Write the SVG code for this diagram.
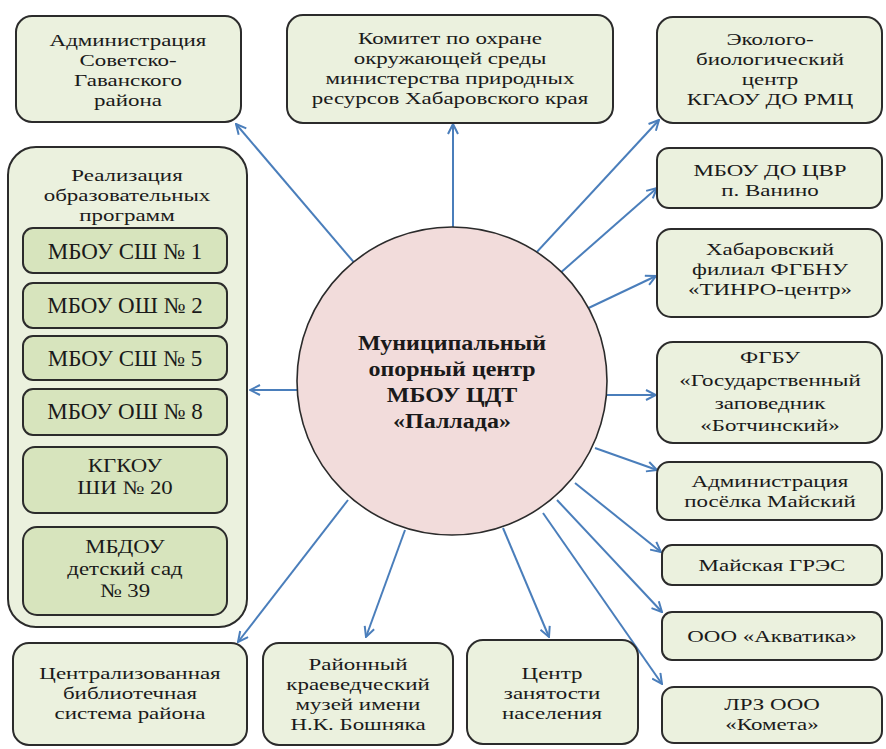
<svg xmlns="http://www.w3.org/2000/svg" width="886" height="749" viewBox="0 0 886 749" font-family="Liberation Serif, DejaVu Serif, serif">
<style>
.box{fill:#ebf1de;stroke:#2b2b2b;stroke-width:2}
.inner{fill:#d7e4bd;stroke:#2b2b2b;stroke-width:2}
.hub{fill:#f2dcdb;stroke:#2b2b2b;stroke-width:1.6}
text{font-family:"Liberation Serif","DejaVu Serif",serif;font-size:17px;fill:#1a1a1a;text-anchor:middle}
.big{font-size:23px}
.mid{font-size:19px}
.bold{font-weight:bold;font-size:20px}
.conn line{stroke:#4a7ebb;stroke-width:2;marker-end:url(#arr)}
</style>
<defs>
<marker id="arr" viewBox="0 0 12 12" refX="11" refY="6" markerWidth="12" markerHeight="12" markerUnits="userSpaceOnUse" orient="auto">
<path d="M1,1 L11,6 L1,11" fill="none" stroke="#4a7ebb" stroke-width="2"/>
</marker>
</defs>
<rect width="886" height="749" fill="#ffffff"/>

<g class="conn">
<line x1="363" y1="273" x2="236" y2="124"/>
<line x1="453" y1="228" x2="453" y2="124"/>
<line x1="522" y1="268" x2="659" y2="120"/>
<line x1="550" y1="282" x2="657" y2="188"/>
<line x1="578" y1="313" x2="656" y2="276"/>
<line x1="604" y1="395" x2="656" y2="395"/>
<line x1="595" y1="448" x2="657" y2="470"/>
<line x1="575" y1="483" x2="661" y2="552"/>
<line x1="557" y1="500" x2="662" y2="612"/>
<line x1="543" y1="513" x2="662" y2="684"/>
<line x1="503" y1="528" x2="549" y2="637"/>
<line x1="405" y1="530" x2="366" y2="637"/>
<line x1="348" y1="500" x2="238" y2="642"/>
<line x1="298" y1="390" x2="250" y2="390"/>
</g>

<g id="hub">
<ellipse class="hub" cx="452" cy="381" rx="155" ry="154"/>
<g transform="translate(452 0) scale(1.2 1)">
<text class="bold" x="0" y="350">Муниципальный</text>
<text class="bold" x="0" y="376">опорный центр</text>
<text class="bold" x="0" y="402">МБОУ ЦДТ</text>
<text class="bold" x="0" y="428">«Паллада»</text>
</g>
</g>

<g id="admin-sg">
<rect class="box" x="16" y="16" width="225" height="106" rx="16"/>
<g transform="translate(128 0) scale(1.35 1)">
<text x="0" y="46">Администрация</text>
<text x="0" y="66">Советско-</text>
<text x="0" y="86">Гаванского</text>
<text x="0" y="106">района</text>
</g>
</g>

<g id="komitet">
<rect class="box" x="287" y="15" width="326" height="108" rx="16"/>
<g transform="translate(450 0) scale(1.35 1)">
<text x="0" y="44">Комитет по охране</text>
<text x="0" y="64">окружающей среды</text>
<text x="0" y="84">министерства природных</text>
<text x="0" y="104">ресурсов Хабаровского края</text>
</g>
</g>

<g id="eko">
<rect class="box" x="657" y="17" width="225" height="106" rx="16"/>
<g transform="translate(770 0) scale(1.35 1)">
<text x="0" y="45">Эколого-</text>
<text x="0" y="65">биологический</text>
<text x="0" y="85">центр</text>
<text x="0" y="105">КГАОУ ДО РМЦ</text>
</g>
</g>

<g id="cvr">
<rect class="box" x="657" y="148" width="225" height="60" rx="12"/>
<g transform="translate(770 0) scale(1.35 1)">
<text x="0" y="176">МБОУ ДО ЦВР</text>
<text x="0" y="196">п. Ванино</text>
</g>
</g>

<g id="tinro">
<rect class="box" x="657" y="229" width="225" height="88" rx="14"/>
<g transform="translate(770 0) scale(1.35 1)">
<text x="0" y="255">Хабаровский</text>
<text x="0" y="275">филиал ФГБНУ</text>
<text x="0" y="295">«ТИНРО-центр»</text>
</g>
</g>

<g id="fgbu">
<rect class="box" x="657" y="342" width="225" height="101" rx="16"/>
<g transform="translate(770 0) scale(1.35 1)">
<text x="0" y="363">ФГБУ</text>
<text x="0" y="386">«Государственный</text>
<text x="0" y="409">заповедник</text>
<text x="0" y="431">«Ботчинский»</text>
</g>
</g>

<g id="mayskiy">
<rect class="box" x="657" y="462" width="225" height="58" rx="12"/>
<g transform="translate(770 0) scale(1.35 1)">
<text x="0" y="487">Администрация</text>
<text x="0" y="507">посёлка Майский</text>
</g>
</g>

<g id="gres">
<rect class="box" x="662" y="545" width="220" height="40" rx="10"/>
<g transform="translate(772 0) scale(1.35 1)">
<text x="0" y="571">Майская ГРЭС</text>
</g>
</g>

<g id="akvatika">
<rect class="box" x="662" y="612" width="220" height="48" rx="10"/>
<g transform="translate(772 0) scale(1.35 1)">
<text x="0" y="642">ООО «Акватика»</text>
</g>
</g>

<g id="kometa">
<rect class="box" x="662" y="687" width="220" height="56" rx="12"/>
<g transform="translate(772 0) scale(1.35 1)">
<text x="0" y="710">ЛРЗ ООО</text>
<text x="0" y="730">«Комета»</text>
</g>
</g>

<g id="zanyatost">
<rect class="box" x="467" y="640" width="171" height="104" rx="16"/>
<g transform="translate(552 0) scale(1.35 1)">
<text x="0" y="679">Центр</text>
<text x="0" y="699">занятости</text>
<text x="0" y="719">населения</text>
</g>
</g>

<g id="muzey">
<rect class="box" x="263" y="643" width="190" height="102" rx="16"/>
<g transform="translate(358 0) scale(1.35 1)">
<text x="0" y="670">Районный</text>
<text x="0" y="690">краеведческий</text>
<text x="0" y="710">музей имени</text>
<text x="0" y="730">Н.К. Бошняка</text>
</g>
</g>

<g id="biblio">
<rect class="box" x="13" y="643" width="234" height="102" rx="16"/>
<g transform="translate(130 0) scale(1.35 1)">
<text x="0" y="679">Централизованная</text>
<text x="0" y="699">библиотечная</text>
<text x="0" y="719">система района</text>
</g>
</g>

<g id="realizaciya">
<rect class="box" x="8" y="147" width="239" height="480" rx="28"/>
<g transform="translate(127 0) scale(1.35 1)">
<text x="0" y="181">Реализация</text>
<text x="0" y="201">образовательных</text>
<text x="0" y="221">программ</text>
</g>
</g>

<g id="sh1">
<rect class="inner" x="23" y="228" width="204" height="45" rx="10"/>
<text class="big" x="125" y="259">МБОУ СШ № 1</text>
</g>
<g id="sh2">
<rect class="inner" x="23" y="283" width="204" height="45" rx="10"/>
<text class="big" x="125" y="313">МБОУ ОШ № 2</text>
</g>
<g id="sh5">
<rect class="inner" x="23" y="336" width="204" height="44" rx="10"/>
<text class="big" x="125" y="366">МБОУ СШ № 5</text>
</g>
<g id="sh8">
<rect class="inner" x="23" y="389" width="204" height="46" rx="10"/>
<text class="big" x="125" y="419">МБОУ ОШ № 8</text>
</g>
<g id="shi20">
<rect class="inner" x="23" y="447" width="204" height="66" rx="12"/>
<g transform="translate(125 0) scale(1.2 1)">
<text class="mid" x="0" y="472">КГКОУ</text>
<text class="mid" x="0" y="494">ШИ № 20</text>
</g>
</g>
<g id="sad39">
<rect class="inner" x="23" y="527" width="204" height="88" rx="14"/>
<g transform="translate(125 0) scale(1.2 1)">
<text class="mid" x="0" y="553">МБДОУ</text>
<text class="mid" x="0" y="575">детский сад</text>
<text class="mid" x="0" y="597">№ 39</text>
</g>
</g>
</svg>
